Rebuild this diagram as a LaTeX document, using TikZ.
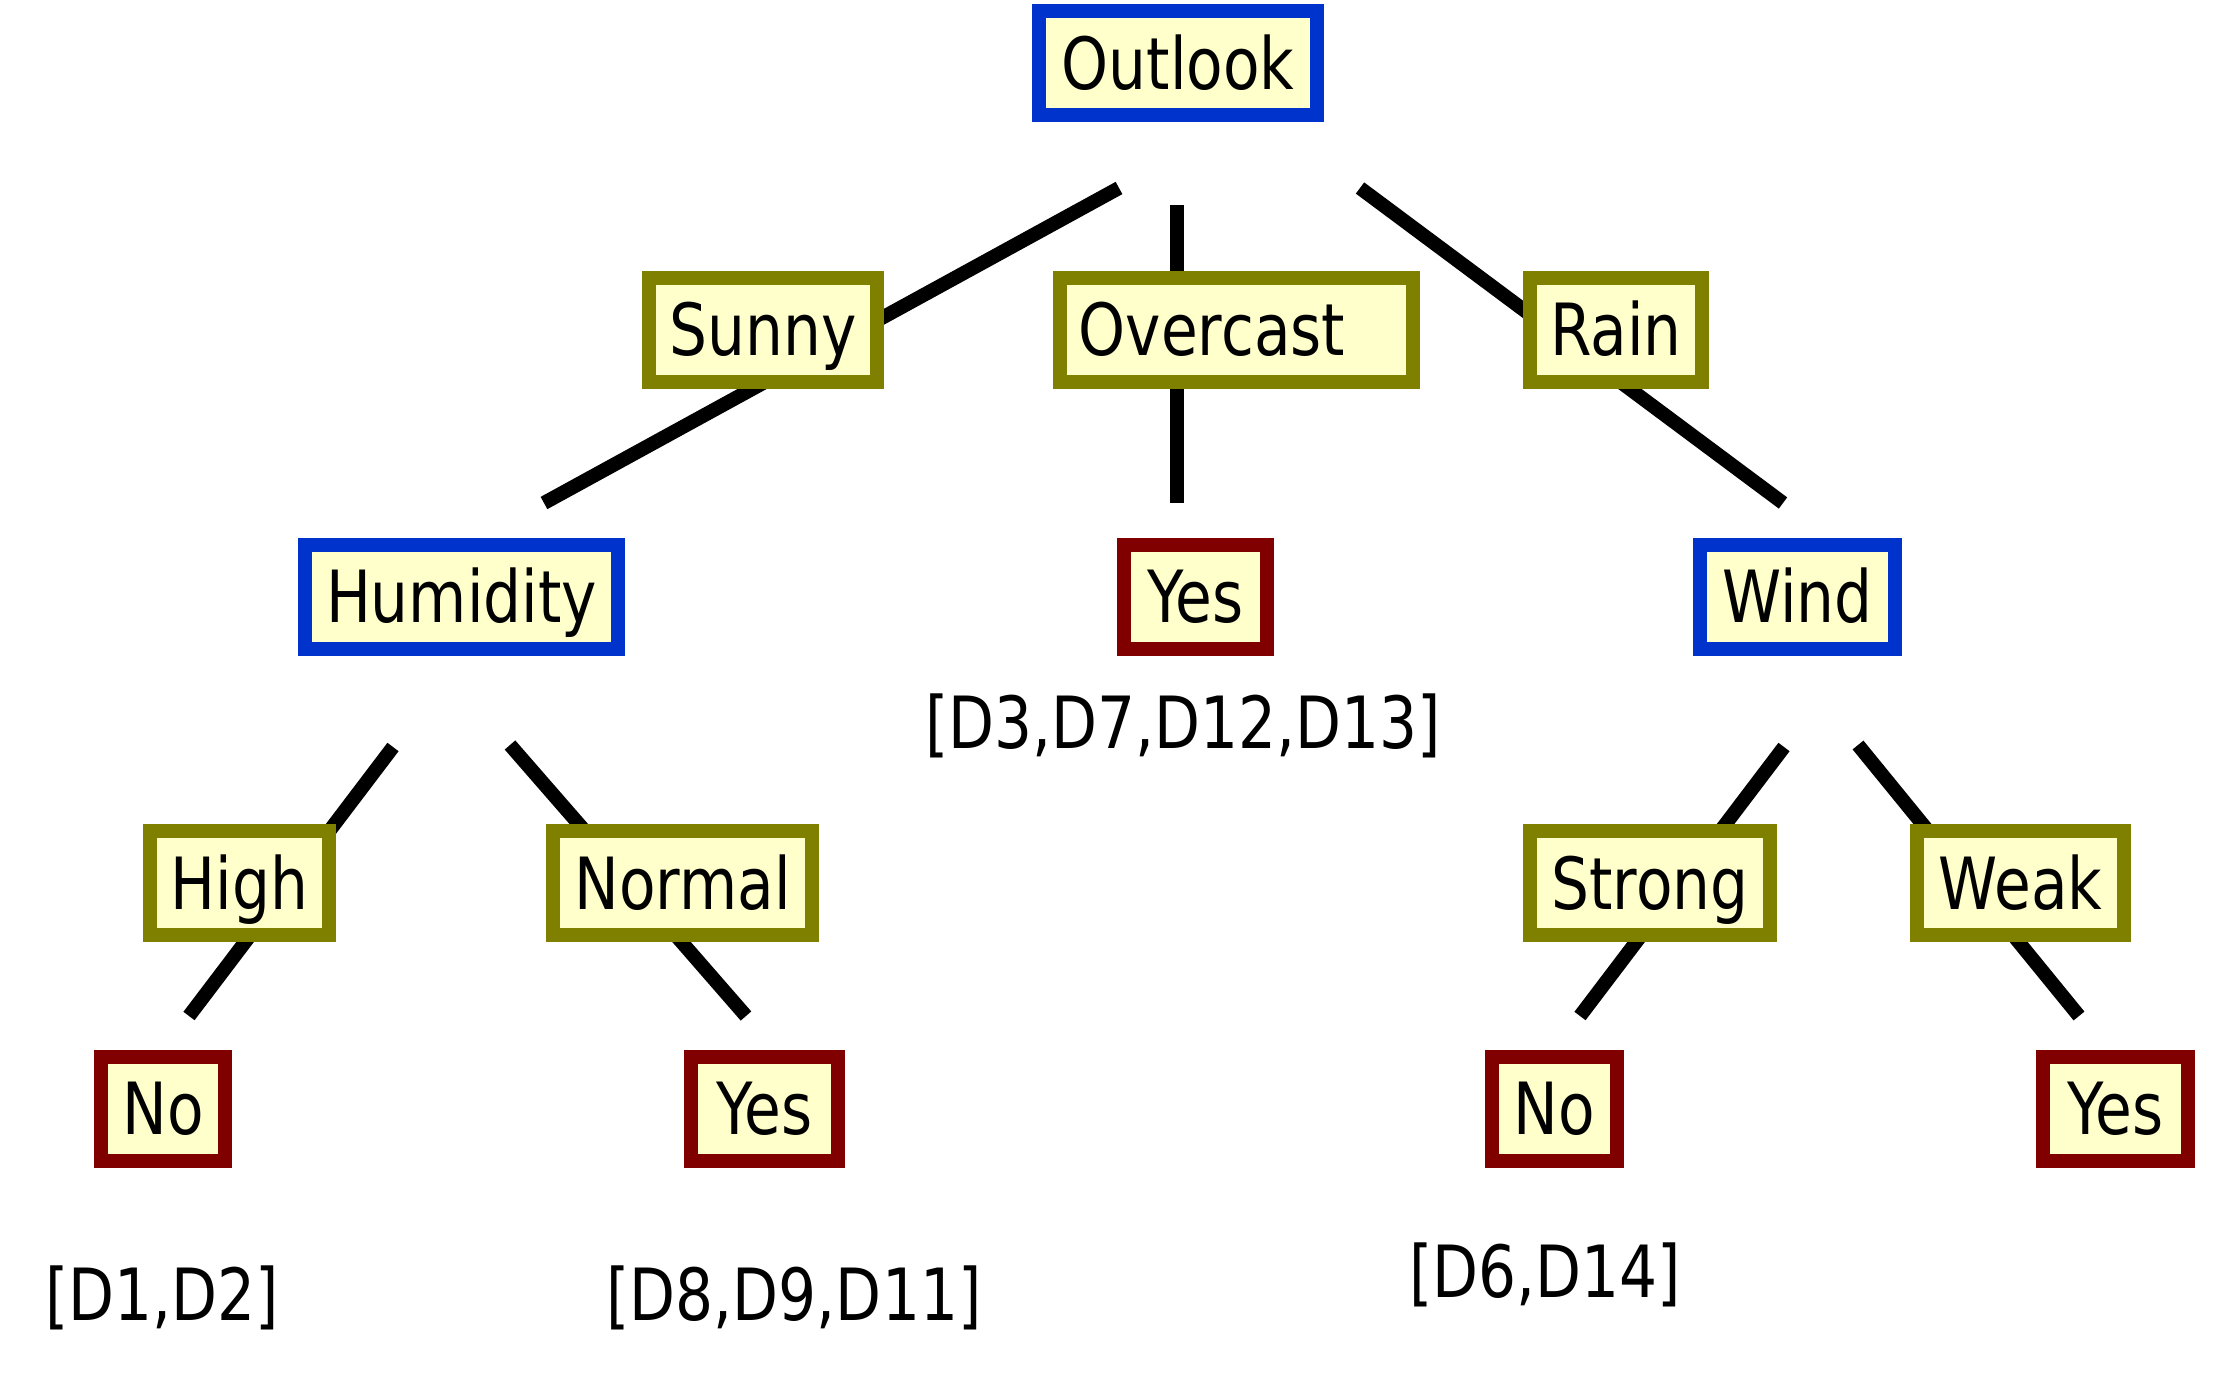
\documentclass[tikz,border=0pt]{standalone}
\usepackage{fontspec}
\setmainfont{DejaVu Sans}[FakeStretch=0.83]
\definecolor{attrblue}{HTML}{0033CC}
\definecolor{valolive}{HTML}{808000}
\definecolor{leafred}{HTML}{800000}
\definecolor{boxfill}{HTML}{FFFFCC}
\tikzset{
  base/.style={draw, line width=7pt, fill=boxfill, inner sep=0pt,
    text height=26pt, text depth=0pt, minimum height=52pt,
    font=\fontsize{36}{40}\selectfont},
  attr/.style={base, draw=attrblue},
  val/.style={base, draw=valolive},
  leaf/.style={base, draw=leafred},
  lab/.style={inner sep=0pt, text height=26pt, text depth=0pt,
    font=\fontsize{36}{40}\selectfont},
  conn/.style={line width=7pt, black}
}
\begin{document}
\begin{tikzpicture}[x=0.5pt, y=-0.5pt]
\useasboundingbox (0,0) rectangle (2222,1374);
% connector end points
\coordinate (c1a) at (1119,188);  \coordinate (c1b) at (544,503);
\coordinate (c2a) at (1177,205);  \coordinate (c2b) at (1177,503);
\coordinate (c3a) at (1360,188);  \coordinate (c3b) at (1783,503);
\coordinate (c4a) at (393,747);   \coordinate (c4b) at (189,1016);
\coordinate (c5a) at (510,745);   \coordinate (c5b) at (746,1016);
\coordinate (c6a) at (1784,747);  \coordinate (c6b) at (1580,1016);
\coordinate (c7a) at (1858,745);  \coordinate (c7b) at (2079,1016);
\draw[conn] (c1a) -- (c1b);
\draw[conn] (c2a) -- (c2b);
\draw[conn] (c3a) -- (c3b);
\draw[conn] (c4a) -- (c4b);
\draw[conn] (c5a) -- (c5b);
\draw[conn] (c6a) -- (c6b);
\draw[conn] (c7a) -- (c7b);
% nodes
\node[attr, minimum width=139pt] (outlook) at (1178,63.5) {Outlook};
\node[val, minimum width=114pt] (sunny) at (763,330) {Sunny};
\node[val, minimum width=176.5pt] (overcast) at (1236.5,330) {Overcast\hspace*{24.5pt}};
\node[val, minimum width=86pt] (rain) at (1616,330) {Rain};
\node[attr, minimum width=156.5pt] (humidity) at (461.5,596.5) {Humidity};
\node[leaf, minimum width=71.5pt] (yesmid) at (1195.5,596.5) {Yes};
\node[attr, minimum width=97.5pt] (wind) at (1797.5,596.5) {Wind};
\node[val, minimum width=89.5pt] (high) at (239.5,883) {High};
\node[val, minimum width=129.5pt] (normal) at (682.5,883) {Normal};
\node[val, minimum width=120pt] (strong) at (1650,883) {Strong};
\node[val, minimum width=103.5pt] (weak) at (2020.5,883) {Weak};
\node[leaf, minimum width=62pt] (noleft) at (163,1108.5) {No};
\node[leaf, minimum width=73.5pt] (yesleft) at (764.5,1108.5) {Yes};
\node[leaf, minimum width=62.5pt] (noright) at (1554.5,1108.5) {No};
\node[leaf, minimum width=72.5pt] (yesright) at (2115.5,1108.5) {Yes};
% example lists
\node[lab] (l1) at (1183,722) {[D3,D7,D12,D13]};
\node[lab] (l2) at (162,1294) {[D1,D2]};
\node[lab] (l3) at (794,1294) {[D8,D9,D11]};
\node[lab] (l4) at (1545,1271) {[D6,D14]};
\end{tikzpicture}
\end{document}
